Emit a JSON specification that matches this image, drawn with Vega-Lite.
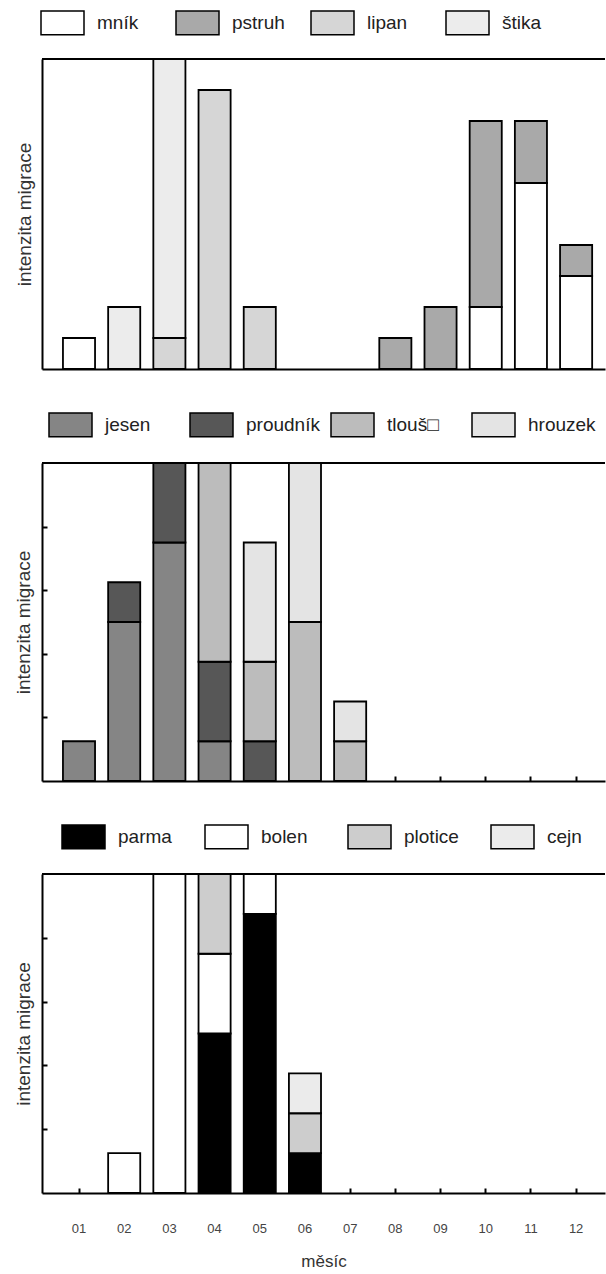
{
  "$schema": "https://vega.github.io/schema/vega-lite/v6.json",
  "padding": {"left": 14, "top": 0, "right": 0, "bottom": 0},
  "config": {
    "view": {"stroke": null},
    "font": "Liberation Sans",
    "axis": {"domainColor": "black", "domainWidth": 2, "tickColor": "black", "tickWidth": 2, "grid": false},
    "legend": {"padding": 0}
  },
  "resolve": {"scale": {"fill": "independent", "y": "independent"}, "legend": {"fill": "independent"}},
  "datasets": {
    "p1": [
      {"mesic": "01", "druh": "mník", "poradi": 1, "hodnota": 1},
      {"mesic": "02", "druh": "štika", "poradi": 4, "hodnota": 2},
      {"mesic": "03", "druh": "lipan", "poradi": 3, "hodnota": 1},
      {"mesic": "03", "druh": "štika", "poradi": 4, "hodnota": 9},
      {"mesic": "04", "druh": "lipan", "poradi": 3, "hodnota": 9},
      {"mesic": "05", "druh": "lipan", "poradi": 3, "hodnota": 2},
      {"mesic": "08", "druh": "pstruh", "poradi": 2, "hodnota": 1},
      {"mesic": "09", "druh": "pstruh", "poradi": 2, "hodnota": 2},
      {"mesic": "10", "druh": "mník", "poradi": 1, "hodnota": 2},
      {"mesic": "10", "druh": "pstruh", "poradi": 2, "hodnota": 6},
      {"mesic": "11", "druh": "mník", "poradi": 1, "hodnota": 6},
      {"mesic": "11", "druh": "pstruh", "poradi": 2, "hodnota": 2},
      {"mesic": "12", "druh": "mník", "poradi": 1, "hodnota": 3},
      {"mesic": "12", "druh": "pstruh", "poradi": 2, "hodnota": 1}
    ],
    "p2": [
      {"mesic": "01", "druh": "jesen", "poradi": 1, "hodnota": 1},
      {"mesic": "02", "druh": "jesen", "poradi": 1, "hodnota": 4},
      {"mesic": "02", "druh": "proudník", "poradi": 2, "hodnota": 1},
      {"mesic": "03", "druh": "jesen", "poradi": 1, "hodnota": 6},
      {"mesic": "03", "druh": "proudník", "poradi": 2, "hodnota": 2},
      {"mesic": "04", "druh": "jesen", "poradi": 1, "hodnota": 1},
      {"mesic": "04", "druh": "proudník", "poradi": 2, "hodnota": 2},
      {"mesic": "04", "druh": "tlouš□", "poradi": 3, "hodnota": 5},
      {"mesic": "05", "druh": "proudník", "poradi": 2, "hodnota": 1},
      {"mesic": "05", "druh": "tlouš□", "poradi": 3, "hodnota": 2},
      {"mesic": "05", "druh": "hrouzek", "poradi": 4, "hodnota": 3},
      {"mesic": "06", "druh": "tlouš□", "poradi": 3, "hodnota": 4},
      {"mesic": "06", "druh": "hrouzek", "poradi": 4, "hodnota": 4},
      {"mesic": "07", "druh": "tlouš□", "poradi": 3, "hodnota": 1},
      {"mesic": "07", "druh": "hrouzek", "poradi": 4, "hodnota": 1}
    ],
    "p3": [
      {"mesic": "02", "druh": "bolen", "poradi": 2, "hodnota": 1},
      {"mesic": "03", "druh": "bolen", "poradi": 2, "hodnota": 8},
      {"mesic": "04", "druh": "parma", "poradi": 1, "hodnota": 4},
      {"mesic": "04", "druh": "bolen", "poradi": 2, "hodnota": 2},
      {"mesic": "04", "druh": "plotice", "poradi": 3, "hodnota": 2},
      {"mesic": "05", "druh": "parma", "poradi": 1, "hodnota": 7},
      {"mesic": "05", "druh": "bolen", "poradi": 2, "hodnota": 1},
      {"mesic": "06", "druh": "parma", "poradi": 1, "hodnota": 1},
      {"mesic": "06", "druh": "plotice", "poradi": 3, "hodnota": 1},
      {"mesic": "06", "druh": "cejn", "poradi": 4, "hodnota": 1}
    ]
  },
  "spacing": 32,
  "vconcat": [
    {
      "width": 563,
      "height": 310,
      "data": {"name": "p1"},
      "layer": [
        {
          "mark": {"type": "bar", "stroke": "black", "strokeWidth": 1.8},
          "encoding": {
            "x": {"field": "mesic", "type": "ordinal",
              "scale": {"domain": ["01","02","03","04","05","06","07","08","09","10","11","12"], "paddingInner": 0.29, "paddingOuter": 0.374, "align": 0.62},
              "axis": {"labels": false, "ticks": false, "title": null}},
            "y": {"field": "hodnota", "type": "quantitative", "stack": true,
              "scale": {"domain": [0, 10], "nice": false},
              "axis": {"labels": false, "ticks": false, "title": "intenzita migrace", "titleFontSize": 19, "titleFontWeight": "normal", "titleColor": "#333", "titlePadding": 8}},
            "fill": {"field": "druh", "type": "nominal", "sort": ["mník","pstruh","lipan","štika"],
              "scale": {"domain": ["mník","pstruh","lipan","štika"], "range": ["#ffffff","#a9a9a9","#d6d6d6","#ececec"]},
              "legend": {"orient": "none", "legendX": -2, "legendY": -59, "direction": "horizontal", "columns": 4, "gridAlign": "all", "title": null,
                "symbolType": "M-1,-0.55H1V0.55H-1Z", "symbolSize": 1849, "symbolStrokeColor": "black", "symbolStrokeWidth": 1.5,
                "labelFontSize": 19, "labelOffset": 12, "columnPadding": 23, "labelColor": "#222", "labelLimit": 200}},
            "order": {"field": "poradi", "type": "quantitative", "sort": "ascending"}
          }
        },
        {
          "data": {"values": [{}]},
          "mark": {"type": "rule", "color": "black", "strokeWidth": 2},
          "encoding": {"y": {"datum": 10}}
        }
      ]
    },
    {
      "width": 563,
      "height": 318,
      "data": {"name": "p2"},
      "layer": [
        {
          "mark": {"type": "bar", "stroke": "black", "strokeWidth": 1.8},
          "encoding": {
            "x": {"field": "mesic", "type": "ordinal",
              "scale": {"domain": ["01","02","03","04","05","06","07","08","09","10","11","12"], "paddingInner": 0.29, "paddingOuter": 0.374, "align": 0.62},
              "axis": {"labels": false, "ticks": true, "tickSize": -5, "title": null}},
            "y": {"field": "hodnota", "type": "quantitative", "stack": true,
              "scale": {"domain": [0, 8], "nice": false},
              "axis": {"labels": false, "ticks": true, "tickSize": -5, "values": [1.6, 3.2, 4.8, 6.4], "title": "intenzita migrace", "titleFontSize": 19, "titleFontWeight": "normal", "titleColor": "#333", "titlePadding": 8}},
            "fill": {"field": "druh", "type": "nominal", "sort": ["jesen","proudník","tlouš□","hrouzek"],
              "scale": {"domain": ["jesen","proudník","tlouš□","hrouzek"], "range": ["#858585","#575757","#bcbcbc","#e4e4e4"]},
              "legend": {"orient": "none", "legendX": 6, "legendY": -61, "direction": "horizontal", "columns": 4, "gridAlign": "all", "title": null,
                "symbolType": "M-1,-0.55H1V0.55H-1Z", "symbolSize": 1849, "symbolStrokeColor": "black", "symbolStrokeWidth": 1.5,
                "labelFontSize": 19, "labelOffset": 12, "columnPadding": 8, "labelColor": "#222", "labelLimit": 200}},
            "order": {"field": "poradi", "type": "quantitative", "sort": "ascending"}
          }
        },
        {
          "data": {"values": [{}]},
          "mark": {"type": "rule", "color": "black", "strokeWidth": 2},
          "encoding": {"y": {"datum": 8}}
        }
      ]
    },
    {
      "width": 563,
      "height": 319,
      "data": {"name": "p3"},
      "layer": [
        {
          "mark": {"type": "bar", "stroke": "black", "strokeWidth": 1.8},
          "encoding": {
            "x": {"field": "mesic", "type": "ordinal",
              "scale": {"domain": ["01","02","03","04","05","06","07","08","09","10","11","12"], "paddingInner": 0.29, "paddingOuter": 0.374, "align": 0.62},
              "axis": {"labels": true, "labelAngle": 0, "labelFontSize": 13, "labelColor": "#444", "labelPadding": 34, "ticks": true, "tickSize": -5, "title": "měsíc", "titleFontSize": 17, "titleFontWeight": "normal", "titleColor": "#333", "titlePadding": 18}},
            "y": {"field": "hodnota", "type": "quantitative", "stack": true,
              "scale": {"domain": [0, 8], "nice": false},
              "axis": {"labels": false, "ticks": true, "tickSize": -5, "values": [1.6, 3.2, 4.8, 6.4], "title": "intenzita migrace", "titleFontSize": 19, "titleFontWeight": "normal", "titleColor": "#333", "titlePadding": 8}},
            "fill": {"field": "druh", "type": "nominal", "sort": ["parma","bolen","plotice","cejn"],
              "scale": {"domain": ["parma","bolen","plotice","cejn"], "range": ["#000000","#ffffff","#cdcdcd","#ebebeb"]},
              "legend": {"orient": "none", "legendX": 19, "legendY": -60, "direction": "horizontal", "columns": 4, "gridAlign": "all", "title": null,
                "symbolType": "M-1,-0.55H1V0.55H-1Z", "symbolSize": 1849, "symbolStrokeColor": "black", "symbolStrokeWidth": 1.5,
                "labelFontSize": 19, "labelOffset": 12, "columnPadding": 29, "labelColor": "#222", "labelLimit": 200}},
            "order": {"field": "poradi", "type": "quantitative", "sort": "ascending"}
          }
        },
        {
          "data": {"values": [{}]},
          "mark": {"type": "rule", "color": "black", "strokeWidth": 2},
          "encoding": {"y": {"datum": 8}}
        }
      ]
    }
  ]
}
